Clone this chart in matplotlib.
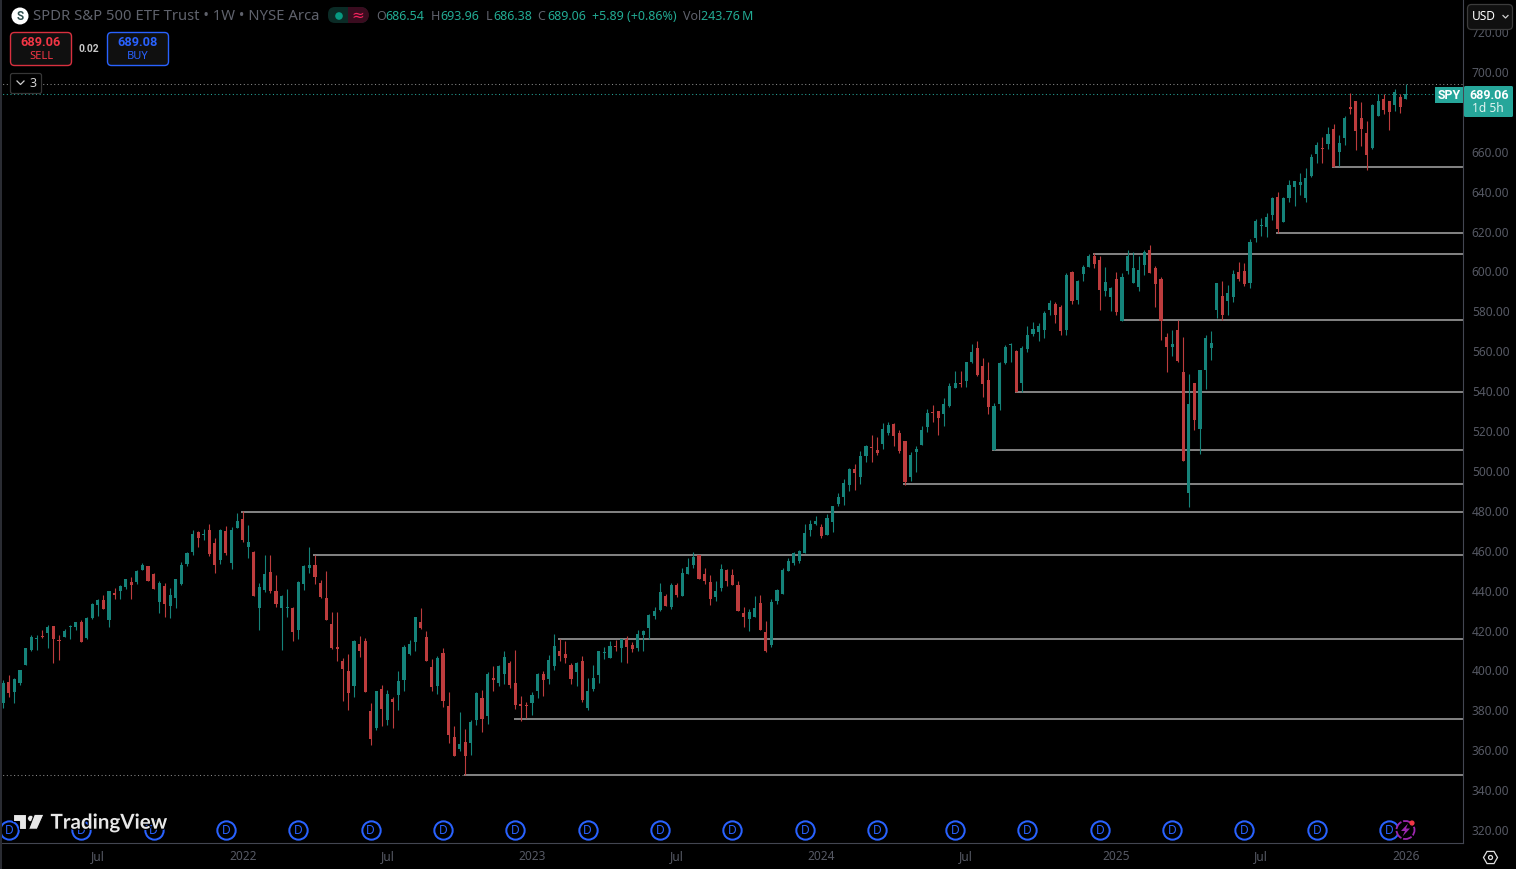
import numpy as np
import matplotlib
matplotlib.use('Agg')
import matplotlib.pyplot as plt
import matplotlib.patheffects as pe
from matplotlib.patches import Rectangle, FancyBboxPatch, Circle, Polygon, RegularPolygon

plt.rcParams['font.family'] = ['Noto Sans', 'DejaVu Sans']

# weekly SPY candles
opens = [383.9,394.4,389.4,393.9,402.9,410.4,415.9,417.4,418.9,422.4,
         415.4,416.9,421.9,421.9,424.4,416.4,426.4,432.9,435.4,425.4,
         438.9,439.9,441.9,444.4,444.4,450.4,452.4,448.4,434.4,442.4,
         432.4,436.4,443.4,453.4,459.4,469.4,467.9,470.4,463.9,455.4,
         469.9,453.9,471.4,475.9,461.9,459.4,431.4,440.4,449.4,439.9,
         431.4,431.4,431.4,420.4,443.4,451.4,452.9,443.9,436.4,423.4,
         411.9,404.9,399.9,392.4,413.4,414.9,379.9,371.4,390.9,375.4,
         385.9,387.9,395.4,408.4,414.4,424.4,416.9,401.9,392.4,408.9,
         382.4,366.4,360.4,363.9,363.4,375.4,386.4,377.4,396.4,393.9,
         398.4,403.9,393.9,383.4,382.9,383.9,389.9,398.4,395.9,402.4,
         409.9,408.4,402.9,399.4,404.9,381.4,390.5,397.5,408.5,406,
         412.5,411.5,416,413,411.5,418,421.5,427.5,430.5,437.5,
         432,443,437.5,448.5,453,458,448.5,444.5,437,441.5,
         450.5,448,443,429,426,427,434,419.5,413,435,
         438.5,450,454,455,459,470.5,473.5,472,468,474.5,
         483.5,487.2,493.2,501.2,497.2,507.7,512.2,510.7,513.7,519.2,
         523.7,519.2,515.2,497.2,509.7,513.2,522.2,529.7,530.2,528.7,
         532.7,541.7,544.2,545.2,554.7,561.7,552.7,545.7,510.7,533.7,
         554.2,563.2,560.2,544.2,561.2,568.7,569.7,570.7,580.7,583.7,
         582.2,570.8,599.8,585.8,598.8,602.3,607.8,605.8,590.3,587.3,
         596.3,575.3,600.3,594.3,592.3,603.3,610.8,601.8,596.3,567.3,
         562.3,570.8,549.8,488.8,544.3,520.8,550.8,561.8,580.8,587.8,
         585.3,587.3,599.8,600.3,594.3,617,623,622.5,628.5,637.5,
         625,637,642.5,643.5,637,648,659,662,664,671.5,
         660,667,682.5,685.5,677,669.5,662,678,686.5,685.5,
         683.5,687.5,686.54]
highs = [395.4,397.9,396.4,400.4,411.4,417.9,417.9,420.4,422.9,422.4,
         417.9,420.9,422.9,424.4,425.4,426.9,433.9,435.9,437.9,439.9,
         441.4,442.9,445.9,446.9,450.4,453.9,452.4,448.9,444.9,443.9,
         441.4,445.9,454.4,459.4,470.4,469.9,470.9,473.4,466.4,470.9,
         472.4,471.9,478.9,479.9,472.9,459.9,443.9,457.9,457.9,447.9,
         437.9,440.9,431.9,444.9,452.9,461.9,457.9,445.4,449.9,429.4,
         429.4,406.4,408.4,415.4,417.4,416.4,383.9,389.9,392.9,390.4,
         386.9,399.9,412.9,415.4,426.9,431.4,419.9,405.9,407.4,411.4,
         389.4,372.4,379.4,370.4,375.4,389.4,390.4,399.4,402.4,402.9,
         409.9,404.9,410.4,387.4,384.4,389.4,398.9,399.9,407.9,418.4,
         415.9,414.9,403.9,404.4,407.4,396.4,402.5,409.5,412,415,
         415.5,416,417.5,414.5,420.5,420.5,428.5,432,444,438.5,
         444,444,451.5,456.5,459.5,458,451.5,448,445,453.5,
         451,451,445,432,431,437.5,438,425,436,441,
         451.5,456.5,459.5,460.5,473.5,475.5,477.5,473.5,478.5,482.5,
         489,496.2,501.7,503.7,510.2,513.2,518.2,517.2,524.2,524.7,
         524.2,520.7,515.2,509.7,512.7,522.7,531.2,533.2,530.2,536.7,
         544.2,550.2,550.2,554.7,563.7,565.2,556.7,554.7,534.2,554.7,
         563.2,564.2,560.7,562.7,572.7,574.7,574.2,580.2,585.7,584.7,
         583.2,599.3,600.3,595.8,603.3,608.8,609.3,607.8,602.3,592.3,
         599.8,599.3,610.8,609.8,607.8,610.8,613.3,602.8,597.3,569.3,
         570.8,575.8,567.3,548.8,544.3,550.8,568.3,570.3,594.3,595.3,
         593.3,600.8,604.8,604.3,616.3,626.5,627,629.5,637.5,640,
         637.5,646,645.5,649.5,652,659,665,667.5,672.5,674,
         668.5,678,689.5,685.5,685,675.5,684,689,689,685.5,
         691.5,689,693.96]
lows = [381.4,386.9,383.9,392.9,402.9,409.9,410.4,416.4,411.4,403.9,
        405.4,416.9,415.9,420.4,414.4,415.9,425.9,427.4,430.9,421.9,
        435.9,435.9,440.9,435.9,443.4,450.4,444.9,440.9,428.9,426.9,
        426.4,431.4,442.9,452.4,457.9,461.9,465.4,457.4,448.9,453.4,
        457.9,450.9,471.4,464.4,456.4,437.4,420.4,439.4,438.9,431.9,
        410.4,426.9,414.9,415.9,440.4,448.9,443.4,436.4,425.4,410.9,
        404.9,384.9,380.4,386.9,406.9,389.4,362.4,369.9,372.4,372.9,
        370.9,380.4,389.9,407.9,409.9,420.9,404.9,389.9,388.4,381.9,
        363.4,356.9,359.4,347.7,357.4,372.9,368.9,373.4,389.9,392.4,
        393.4,391.4,380.9,374.9,376.4,377.9,386.4,387.4,393.4,400.4,
        404.9,403.9,393.4,392.4,384.4,380.4,389.5,393.5,405.5,406,
        410,404,403.5,409,410,410,416,426,430,432.5,
        431,437,437.5,448.5,451.5,446,443.5,433,435,440,
        442.5,443,430,422,420,427,420.5,409,412,433.5,
        438.5,450,453,454,459,467.5,473,466.5,468,469.5,
        482.5,482.7,490.2,490.7,493.7,504.7,504.7,508.2,511.2,518.2,
        512.7,509.2,493.2,495.2,499.7,513.2,519.7,524.7,518.2,522.7,
        532.2,541.7,542.2,542.2,554.2,547.7,537.2,528.7,510.7,530.7,
        553.7,554.7,539.7,539.7,559.7,567.7,565.2,566.7,578.2,574.2,
        568.2,568.3,583.8,583.8,595.3,602.3,601.8,580.8,587.8,580.3,
        578.3,575.3,598.8,594.3,590.3,598.3,599.3,582.3,565.8,549.8,
        557.8,554.8,504.8,481.8,520.3,508.3,541.3,555.8,576.8,575.8,
        578.3,584.8,595.3,592.8,591.8,615,618,617.5,626,619.5,
        625,635,633,638.5,635,647.5,654.5,654.5,661.5,652.5,
        653,663.5,679,661,663,651,661.5,678,679,671,
        680.5,679.5,686.38]
closes = [393.9,388.9,395.9,400.4,411.4,416.9,416.4,416.7,421.9,415.9,
          414.9,419.9,422.4,424.4,414.4,426.4,433.4,435.4,430.9,439.9,
          437.9,442.4,445.9,442.9,449.9,452.9,444.9,440.9,443.9,433.4,
          437.9,445.9,452.9,458.9,468.4,466.4,468.4,458.4,452.9,470.4,
          458.9,470.4,474.9,465.4,464.4,437.4,441.9,448.4,439.9,433.4,
          437.4,431.9,419.4,444.4,452.4,452.9,446.9,436.9,425.4,411.4,
          410.9,400.9,388.9,414.9,409.9,389.4,365.4,389.9,380.9,388.4,
          384.4,394.9,411.9,413.4,426.9,421.4,404.9,391.9,406.4,384.9,
          367.4,356.9,362.9,356.9,374.4,388.9,375.9,398.4,395.4,402.4,
          406.9,392.9,382.9,382.4,382.4,387.9,398.4,395.4,405.4,412.4,
          407.4,406.4,395.9,403.9,385.4,389.9,396,409.5,409,412.5,
          412,416,412,411,418.5,420,428,430,439.5,432.5,
          443,438,449,452,457,446,445,436,440,451,
          445,443,430,427,429.5,431.5,420.5,410,434.5,440.5,
          450.5,455,459,460,469,473.5,475,467.5,476.5,482.5,
          487,494.2,501.2,499.2,507.7,512.7,511.7,509.2,521.2,523.2,
          517.7,510.2,494.7,508.2,511.2,520.7,529.2,529.2,526.7,533.7,
          542.7,544.2,543.7,554.7,559.7,548.2,543.7,532.2,532.7,554.2,
          562.2,563.7,539.7,561.7,568.2,571.2,572.7,579.2,584.2,578.2,
          570.2,598.3,585.3,595.3,602.3,607.8,603.8,590.8,594.8,591.8,
          579.8,597.3,607.8,601.8,600.8,609.8,599.3,593.8,575.3,562.3,
          563.8,555.3,504.8,533.8,525.8,550.8,566.8,564.3,594.3,578.3,
          589.3,598.8,596.3,593.8,614.8,625.5,623.5,627.5,637,621.5,
          637,643.5,645.5,645,647,657.5,663.5,661.5,669,652.5,
          664.5,677,681.5,670.5,671.5,658.5,683.5,685.5,681,680,
          690,682.5,689.06]

# drawn support/resistance levels: first week and price
level_weeks = [239, 229, 196, 201, 182, 178, 162, 43, 56, 100, 92, 83]
level_prices = [652.4, 619.5, 608.8, 575.8, 539.7, 510.6, 493.5, 479.5, 457.9, 415.8, 375.7, 347.6]

dividend_weeks = [1, 14, 27, 40, 53, 66, 79, 92, 105, 118, 131, 144, 157, 171, 184, 197, 210, 223, 236, 249]

# 680 sits behind the last price tag in the screenshot, so it gets no label
price_ticks = [320, 340, 360, 380, 400, 420, 440, 460, 480, 500, 520, 540, 560, 580, 600, 620, 640, 660, 700, 720]
date_ticks = [17, 43, 69, 95, 121, 147, 173, 200, 226, 252]
date_labels = ['Jul', '2022', 'Jul', '2023', 'Jul', '2024', 'Jul', '2025', 'Jul', '2026']

GREEN = '#15837a'
RED = '#bd3c3d'
TEAL = '#26a69a'
AXIS_GREY = '#565964'
LINE_GREY = '#434651'
BOLD_FONT = 'Roboto'

fig = plt.figure(figsize=(15.16, 8.69), dpi=100, facecolor='black')
W, H = 1516, 869
ax = fig.add_axes([2 / W, 1 - 843 / H, 1461 / W, 843 / H], facecolor='black')

weeks = np.arange(len(closes))
o = np.array(opens)
c = np.array(closes)
colors = [GREEN if b >= a else RED for a, b in zip(opens, closes)]

ax.vlines(weeks, lows, highs, colors=colors, lw=0.8, zorder=3)
ax.bar(weeks, np.abs(c - o), bottom=np.minimum(o, c), width=0.56, color=colors, linewidth=0, zorder=3)

x_right = 262.26
ax.hlines(level_prices, np.array(level_weeks) - 0.3, x_right, colors='#808080', lw=1.45, zorder=2)

# dotted price lines
ax.hlines(highs[-1], -1, x_right, colors='#8a8a8a', lw=0.75, linestyles=(0, (1, 2.5)), zorder=1)
ax.hlines(closes[-1], -1, x_right, colors=TEAL, lw=0.75, linestyles=(0, (1, 2.5)), zorder=1)
ax.hlines(347.7, -1, 83, colors='#8a8a8a', lw=0.75, linestyles=(0, (1, 2.5)), zorder=1)

# dividend markers along the bottom
ax.plot(dividend_weeks, [320] * len(dividend_weeks), 'o', ms=13.2, mfc='black', mec='#2962ff', mew=1.45, zorder=4)
for wk in dividend_weeks:
    ax.text(wk, 319.6, 'D', color='#2962ff', fontsize=8.6, ha='center', va='center', zorder=5, clip_on=True)

ax.set_xlim(-0.234, x_right)
ax.set_ylim(313.5, 736.1)
ax.yaxis.tick_right()
ax.set_yticks(price_ticks, ['%.2f' % p for p in price_ticks])
ax.set_xticks(date_ticks, date_labels)
ax.tick_params(axis='y', length=0, pad=6.3, labelsize=8.6, labelcolor=AXIS_GREY)
ax.tick_params(axis='x', length=0, pad=5.3, labelsize=8.6, labelcolor=AXIS_GREY)
for side in ['top', 'left']:
    ax.spines[side].set_visible(False)
for side in ['bottom', 'right']:
    ax.spines[side].set_color(LINE_GREY)
    ax.spines[side].set_linewidth(0.8)

# overlay in pixel coordinates for the TradingView chrome
ov = fig.add_axes([0, 0, 1, 1], facecolor='none')
ov.set_xlim(0, W)
ov.set_ylim(H, 0)
ov.axis('off')


def box(x0, y0, x1, y1, fc, ec='none', lw=1.0, rad=3):
    ov.add_patch(FancyBboxPatch((x0 + rad, y0 + rad), x1 - x0 - 2 * rad, y1 - y0 - 2 * rad,
                                boxstyle='round,pad=%s,rounding_size=%s' % (rad, rad),
                                fc=fc, ec=ec, lw=lw))


def label(x, y, s, color, size=9.0, ha='left', weight='normal', **kw):
    if weight == 'bold':
        kw.setdefault('family', BOLD_FONT)
    return ov.text(x, y + 0.7, s, color=color, fontsize=size, ha=ha, va='center', fontweight=weight, **kw)


ov.add_patch(Rectangle((0, 0), 2, 869, fc='#2a2c33', ec='none'))

# title row
ov.add_patch(Circle((20, 16), 8.5, fc='white', ec='none'))
label(20, 16, 'S', '#2f4f4f', size=8.5, ha='center', weight='bold')
label(33, 16, 'SPDR S&P 500 ETF Trust \u2022 1W \u2022 NYSE Arca', '#5f626c', size=10.7)

box(328, 7, 368, 23, '#0b2b26', rad=7)
ov.add_patch(Rectangle((348, 7), 13, 16, fc='#3a0c1f', ec='none'))
ov.add_patch(Circle((361, 15), 8, fc='#3a0c1f', ec='none'))
ov.add_patch(Circle((339, 16), 3.8, fc='#089981', ec='none'))
label(358, 15, '\u2248', '#f7245f', size=11, ha='center', family='DejaVu Sans')

ohlc_letters = [(376, 'O'), (431, 'H'), (486, 'L'), (537, 'C'), (683, 'Vol')]
ohlc_values = [(385, '686.54'), (440, '693.96'), (493, '686.38'), (547, '689.06'),
               (592, '+5.89 (+0.86%)'), (701, '243.76\u2009M')]
for xp, s in ohlc_letters:
    label(xp, 16, s, '#5f626c', size=9.0)
for xp, s in ohlc_values:
    label(xp, 16, s, '#22ab94', size=9.0)

# sell / buy buttons
box(10.5, 32.5, 71.5, 65.5, '#101010', ec='#d9303f', lw=1.0, rad=4)
label(41, 41.5, '689.06', '#f23645', size=9.2, ha='center', weight='bold')
label(41, 55.5, 'SELL', '#f23645', size=8.0, ha='center')
label(89, 48, '0.02', '#c8c8c8', size=7.4, ha='center', weight='bold')
box(107.5, 32.5, 168.5, 65.5, '#101010', ec='#2962ff', lw=1.0, rad=4)
label(138, 41.5, '689.08', '#2962ff', size=9.2, ha='center', weight='bold')
label(138, 55.5, 'BUY', '#2962ff', size=8.0, ha='center')

# collapse button
box(10.5, 73.5, 41.5, 93.5, 'black', ec='#363636', lw=0.9, rad=2)
ov.plot([17, 20.5, 24], [81, 84.5, 81], color='#d0d0d0', lw=0.9)
label(33, 83, '3', '#d0d0d0', size=9.0, ha='center')

# currency button
box(1467.5, 4.5, 1512.5, 29.5, '#101010', ec='#3c3c3c', lw=0.9, rad=4)
label(1471.5, 16, 'USD', 'white', size=8.6)
ov.plot([1503, 1505.5, 1508], [15.5, 18, 15.5], color='#d0d0d0', lw=0.9)

# last price tags
ov.add_patch(Rectangle((1435, 87), 28, 16, fc=TEAL, ec='none'))
label(1449.5, 94.5, 'SPY', 'white', size=8.8, ha='center', weight='bold')
box(1464, 86, 1513, 117, TEAL, rad=1.5)
label(1489.5, 94.5, '689.06', 'white', size=9.0, ha='center', weight='bold')
label(1472, 108, '1d 5h', '#dff3f0', size=8.6)

# watermark
ov.add_patch(Polygon([(13.3, 814.3), (26, 814.3), (26, 829.3), (19.3, 829.3), (19.3, 821), (13.3, 821)],
                     fc='#e8e8e8', ec='black', lw=0.8))
ov.add_patch(Circle((30.7, 818.5), 3, fc='#e8e8e8', ec='black', lw=0.4))
ov.add_patch(Polygon([(34.3, 814.3), (44, 814.3), (37.3, 829.3), (28.5, 829.3)], fc='#e8e8e8', ec='black', lw=0.8))
label(50.5, 822, 'TradingView', '#e8e8e8', size=14.8, weight='bold', family='Lato',
      path_effects=[pe.withStroke(linewidth=1.6, foreground='black')])

# earnings bolt and settings icon
ov.add_patch(Circle((1405.5, 830), 9, fc='black', ec='#9c27b0', lw=1.3, ls=(0, (5, 1))))
ov.add_patch(Polygon([(1408, 823.5), (1401, 831), (1405, 831), (1402.5, 836.5), (1410, 828.5), (1406, 828.5)], fc='#9c27b0', ec='none'))
ov.add_patch(Circle((1412, 823), 2.6, fc='#f23645', ec='none'))
ov.add_patch(RegularPolygon((1490.5, 857.5), 6, radius=7, orientation=np.pi / 6, fc='none', ec='#e0e0e0', lw=0.9))
ov.add_patch(Circle((1490.5, 857.5), 2, fc='none', ec='#e0e0e0', lw=0.9))

fig.savefig('out.png', dpi=100, facecolor='black')
